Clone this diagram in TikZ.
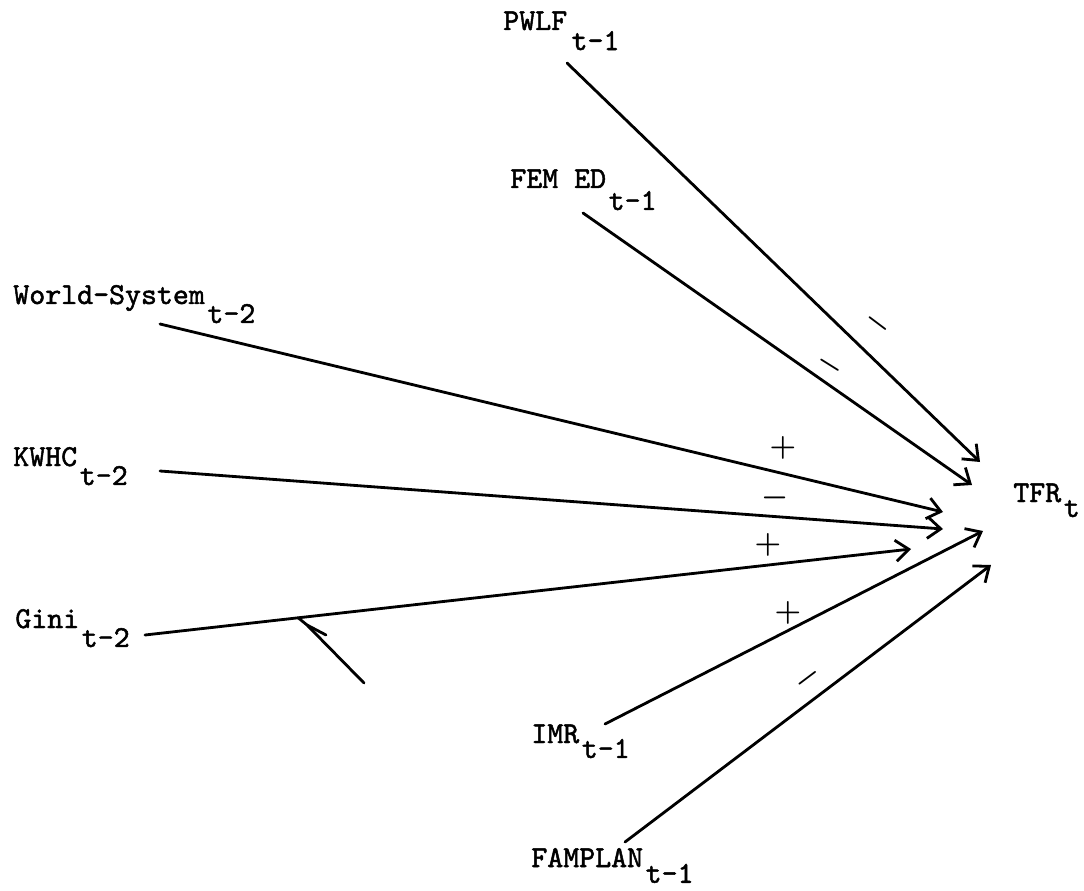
\documentclass[tikz,border=0pt]{standalone}
\usepackage{fontspec}
\usetikzlibrary{arrows.meta,calc}
\newfontfamily\twfont{lmmono10-regular.otf}[FakeBold=1.6]
\newcommand\lsub[2][11pt]{\raisebox{-#1}{\kern1.5pt #2}}
\begin{document}
\begin{tikzpicture}[x=0.02cm,y=-0.02cm,
  lbl/.style={anchor=base west, inner sep=0pt, font=\fontsize{17.3}{19}\selectfont\twfont},
  link/.style={line width=1.6pt, line cap=round, -{Straight Barb[length=7.5pt,width=12pt,line width=1.6pt]}},
  sgn/.style={inner sep=0pt, font=\fontsize{16}{18}\selectfont\boldmath},
  handstroke/.style={line width=1.6pt, line cap=round, line join=round}]
\useasboundingbox (0,0) rectangle (1084,891);
% labels
\node[lbl] (pwlf) at (503,30)  {PWLF\lsub[11.4pt]{\kern1pt t-1}};
\node[lbl] (fem)  at (510,188) {FEM ED\lsub[12.5pt]{t-1}};
\node[lbl] (ws)   at (13,304)  {World-System\lsub[10.8pt]{t-2}};
\node[lbl] (kwhc) at (13,466)  {KWHC\lsub[10.8pt]{t-2}};
\node[lbl] (gini) at (15,628)  {Gini\lsub[10.8pt]{t-2}};
\node[lbl] (imr)  at (531,743) {IMR\lsub[8.5pt]{t-1}};
\node[lbl] (fam)  at (531,867) {FAMPLAN\lsub[9pt]{t-1}};
\node[lbl] (tfr)  at (1013,502){TFR\lsub[8.5pt]{t}};
% connector ends
\coordinate (pwlf-a) at (567,63);  \coordinate (pwlf-b) at (980,462);
\coordinate (fem-a)  at (583,213); \coordinate (fem-b)  at (972,485);
\coordinate (ws-a)   at (160,324); \coordinate (ws-b)   at (943,512);
\coordinate (kwhc-a) at (160,471); \coordinate (kwhc-b) at (943,529);
\coordinate (gini-a) at (145,635); \coordinate (gini-b) at (911,549);
\coordinate (imr-a)  at (605,724); \coordinate (imr-b)  at (983,531);
\coordinate (fam-a)  at (625,842); \coordinate (fam-b)  at (991,565);
% connectors
\draw[link] (pwlf-a) -- (pwlf-b);
\draw[link] (fem-a) -- (fem-b);
\draw[link] (ws-a) -- (ws-b);
\draw[link] (kwhc-a) -- (kwhc-b);
\draw[link] (gini-a) -- (gini-b);
\draw[link] (imr-a) -- (imr-b);
\draw[link] (fam-a) -- (fam-b);
% signs
\node[sgn, rotate=-37] (s-pwlf) at (878,324) {$-$};
\node[sgn, rotate=-32] (s-fem)  at (830,365) {$-$};
\node[sgn] (s-ws)   at (783,448) {$+$};
\node[sgn] (s-kwhc) at (775,498) {$-$};
\node[sgn] (s-gini) at (768,545) {$+$};
\node[sgn] (s-imr)  at (788,613) {$+$};
\node[sgn, rotate=37] (s-fam) at (808,678) {$-$};
% hand-drawn stroke at the Gini line
\coordinate (gm-a) at (364,683);
\coordinate (gm-b) at (307,625);
\coordinate (gm-c) at (326,635);
\draw[handstroke] (gm-a) -- (gm-b) -- ($(gini-a)!0.2!(gini-b)$);
\draw[handstroke] (gm-b) -- (gm-c);
\end{tikzpicture}
\end{document}
